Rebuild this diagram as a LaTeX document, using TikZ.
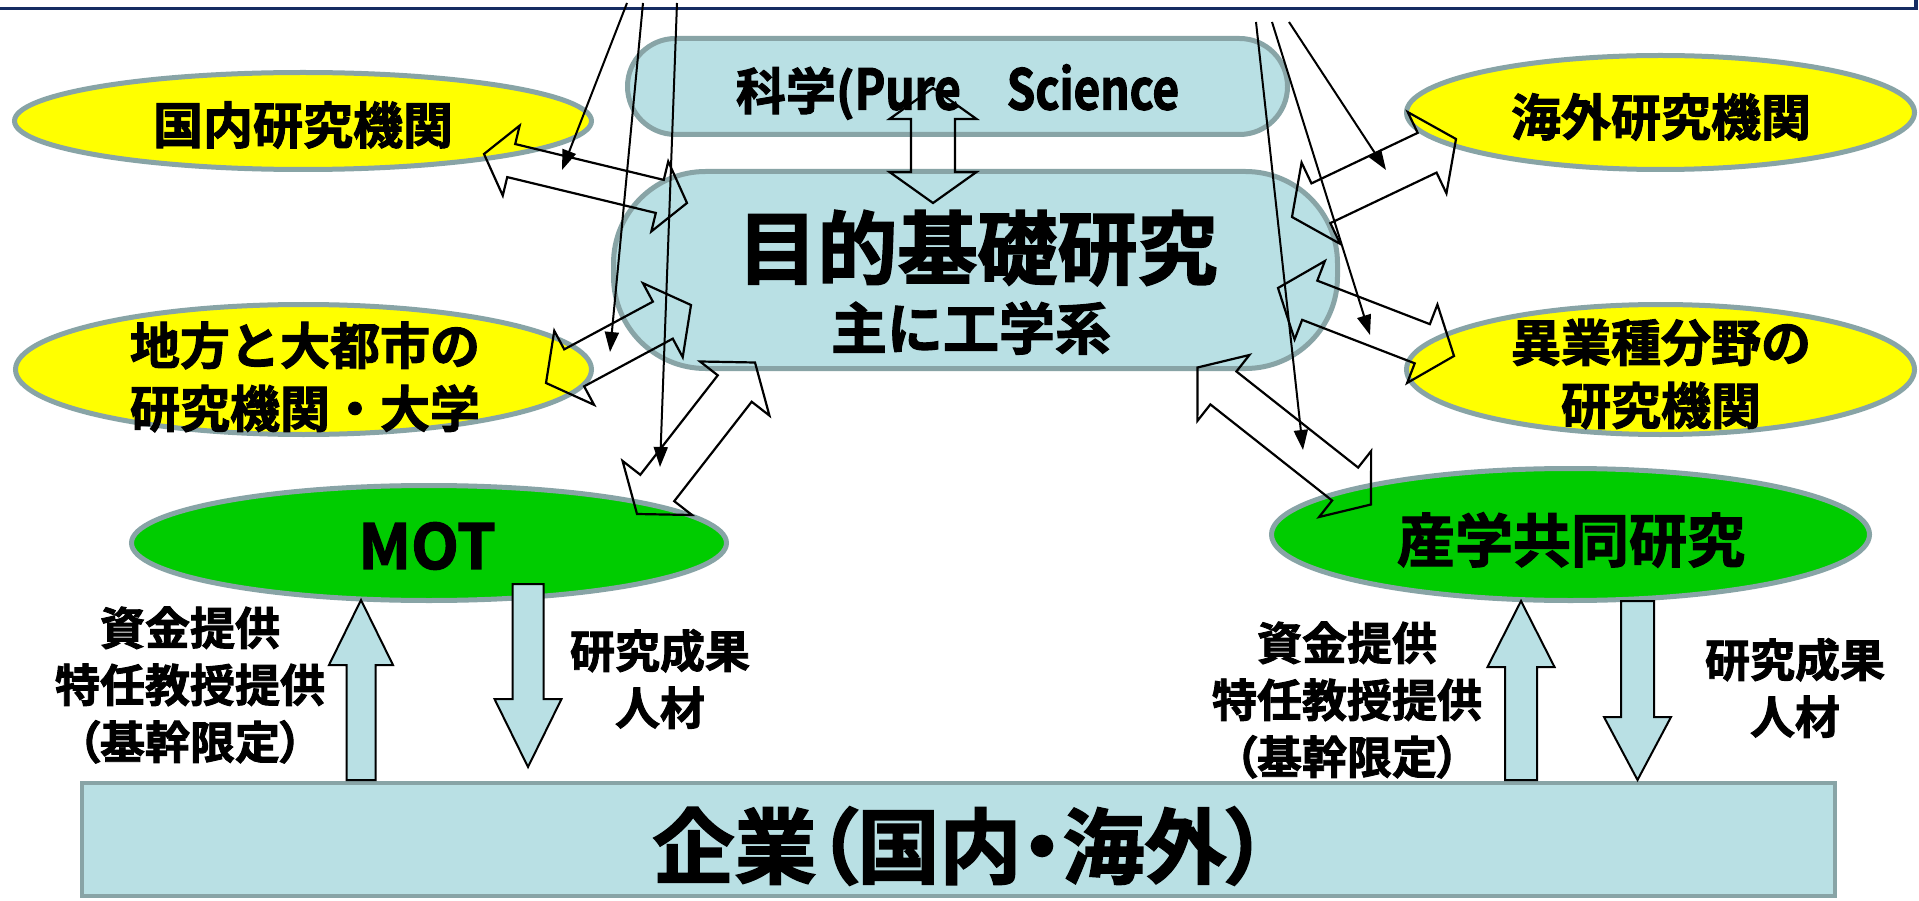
\documentclass[tikz,border=0pt]{standalone}
\usepackage{fontspec}
\newfontfamily\jp{Noto Sans CJK JP Bold}[FakeBold=2]
\newfontfamily\jpp{Noto Sans CJK JP Bold}[FakeBold=2,RawFeature=+palt]
\newfontfamily\jpc{Noto Sans CJK JP Bold}[FakeStretch=0.82,FakeBold=2]
\usetikzlibrary{shapes.geometric,arrows.meta,calc}
\definecolor{boxblue}{RGB}{185,224,228}
\definecolor{edgegrey}{RGB}{136,164,166}
\definecolor{yel}{RGB}{255,255,0}
\definecolor{grn}{RGB}{0,204,0}
\definecolor{navyline}{RGB}{22,44,98}
\tikzset{
  every node/.style={inner sep=0pt, outer sep=0pt},
  yellowell/.style={ellipse, fill=yel, draw=edgegrey, line width=5pt},
  greenell/.style={ellipse, fill=grn, draw=edgegrey, line width=5pt},
  bluebox/.style={rectangle, fill=boxblue, draw=edgegrey, line width=5pt},
  blockarr/.style={fill=boxblue, draw=black, line width=2pt, line join=miter},
  outarr/.style={draw=black, line width=2.2pt, line join=miter},
  thinarr/.style={draw=black, line width=2pt, -{Triangle[length=20pt,width=14pt]}},
  ellfont/.style={font={\jp\fontsize{50}{63}\selectfont}, align=center},
  lbl/.style={font={\jpp\fontsize{45}{57}\selectfont}, align=center},
}
% double outline block arrow: #1 tip A, #2 tip B, #3 half shaft, #4 half head, #5 head length
\newcommand\dblarrow[5]{%
  \draw[outarr] (#1) -- ($(#1)!#5!(#2)!#4!90:(#2)$) -- ($(#1)!#5!(#2)!#3!90:(#2)$)
    -- ($(#2)!#5!(#1)!#3!-90:(#1)$) -- ($(#2)!#5!(#1)!#4!-90:(#1)$) -- (#2)
    -- ($(#2)!#5!(#1)!#4!90:(#1)$) -- ($(#2)!#5!(#1)!#3!90:(#1)$)
    -- ($(#1)!#5!(#2)!#3!-90:(#2)$) -- ($(#1)!#5!(#2)!#4!-90:(#2)$) -- cycle;}
% single filled block arrow: #1 start, #2 tip, #3 half shaft, #4 half head, #5 head length
\newcommand\blockarrow[5]{%
  \draw[blockarr] ($(#1)!#3!90:(#2)$) -- ($(#2)!#5!(#1)!#3!-90:(#1)$)
    -- ($(#2)!#5!(#1)!#4!-90:(#1)$) -- (#2) -- ($(#2)!#5!(#1)!#4!90:(#1)$)
    -- ($(#2)!#5!(#1)!#3!90:(#1)$) -- ($(#1)!#3!-90:(#2)$) -- cycle;}
\begin{document}
\begin{tikzpicture}[x=1pt,y=-1pt]
\useasboundingbox (0,0) rectangle (1919,901);
\clip (0,0) rectangle (1919,901);
\fill[white] (0,0) rectangle (1919,901);
\draw[navyline, line width=3.5pt] (0,8.5) -- (1916,8.5) -- (1916,-3);

% boxes
\node[bluebox, rounded corners=48pt, minimum width=660pt, minimum height=96pt] (sci) at (957.5,86.5) {};
\node[bluebox, rounded corners=92pt, minimum width=724pt, minimum height=197pt] (main) at (975.5,270) {};
\node[bluebox, line width=4pt, minimum width=1753pt, minimum height=113pt] (co) at (958.5,839.5) {};

% ellipses
\node[yellowell, minimum width=577pt, minimum height=97pt] (dom) at (303,121) {};
\node[yellowell, minimum width=576pt, minimum height=130pt] (reg) at (303.5,369.5) {};
\node[yellowell, minimum width=508pt, minimum height=114pt] (ovs) at (1660.5,112.5) {};
\node[yellowell, minimum width=508pt, minimum height=130pt] (oth) at (1660.5,369.5) {};
\node[greenell, minimum width=595pt, minimum height=115pt] (mot) at (429,543) {};
\node[greenell, minimum width=598pt, minimum height=132pt] (ind) at (1570.5,534.5) {};

% texts
\node[ellfont] (tdom) at (303,125) {国内研究機関};
\node[ellfont] (treg) at (305,377) {地方と大都市の\\研究機関・大学};
\node[ellfont] (tovs) at (1661,117) {海外研究機関};
\node[ellfont] (toth) at (1661,374) {異業種分野の\\研究機関};
\node[font={\jp\fontsize{50}{60}\selectfont}] (tsci) at (957.5,92) {科学({\jpc\fontsize{56}{60}\selectfont Pure　Science}};
\node[font={\jp\fontsize{80}{90}\selectfont}] (tmain) at (977.5,248) {目的基礎研究};
\node[font={\jp\fontsize{56}{60}\selectfont}] (tmain2) at (971,328) {主に工学系};
\node[font={\jp\fontsize{62}{70}\selectfont}] (tmot) at (427,546) {MOT};
\node[font={\jp\fontsize{58}{66}\selectfont}] (tind) at (1571,540) {産学共同研究};
\node[font={\jpp\fontsize{82}{90}\selectfont}] (tco) at (960,846) {企業（国内・海外）};
\node[lbl] (l1) at (190,685) {資金提供\\特任教授提供\\（基幹限定）};
\node[lbl] (l2) at (660,679) {研究成果\\人材};
\node[lbl] (l3) at (1347,700) {資金提供\\特任教授提供\\（基幹限定）};
\node[lbl] (l4) at (1795,688) {研究成果\\人材};

% block arrows between MOT / joint research and the company box
\coordinate (mu1) at (361,780);  \coordinate (mu2) at (361,600);
\coordinate (md1) at (528,584);  \coordinate (md2) at (528,767);
\coordinate (iu1) at (1521,780); \coordinate (iu2) at (1521,601);
\coordinate (id1) at (1637.5,601); \coordinate (id2) at (1637.5,780);
\blockarrow{mu1}{mu2}{14.5pt}{32pt}{65pt}
\blockarrow{md1}{md2}{15.5pt}{33.5pt}{68pt}
\blockarrow{iu1}{iu2}{16pt}{33.5pt}{66pt}
\blockarrow{id1}{id2}{16.5pt}{33.5pt}{63pt}

% outline double arrows
\coordinate (a1) at (484,154);    \coordinate (b1) at (687,203);
\coordinate (a2) at (546,383);    \coordinate (b2) at (691,305);
\coordinate (a3) at (637,514);    \coordinate (b3) at (755,362.5);
\coordinate (a4) at (933,88);     \coordinate (b4) at (933,203);
\coordinate (a5) at (1292,217);   \coordinate (b5) at (1456,139);
\coordinate (a6) at (1278,288);   \coordinate (b6) at (1454,356);
\coordinate (a7) at (1197.5,367.5); \coordinate (b7) at (1371,504.5);
\dblarrow{a1}{b1}{17pt}{36pt}{28pt}
\dblarrow{a2}{b2}{21pt}{42pt}{32pt}
\dblarrow{a3}{b3}{21.5pt}{44pt}{33pt}
\dblarrow{a4}{b4}{22pt}{43.5pt}{31pt}
\dblarrow{a5}{b5}{22pt}{45pt}{32pt}
\dblarrow{a6}{b6}{21pt}{42pt}{34pt}
\dblarrow{a7}{b7}{21pt}{42pt}{33pt}

% thin arrows from the top
\coordinate (s1) at (627,3);  \coordinate (e1) at (562,170);
\coordinate (s2) at (643,3);  \coordinate (e2) at (610,352);
\coordinate (s3) at (677,3);  \coordinate (e3) at (660,467);
\coordinate (s4) at (1289,22); \coordinate (e4) at (1386,170);
\coordinate (s5) at (1272,22); \coordinate (e5) at (1370,335);
\coordinate (s6) at (1256,22); \coordinate (e6) at (1303,450);
\draw[thinarr] (s1) -- (e1);
\draw[thinarr] (s2) -- (e2);
\draw[thinarr] (s3) -- (e3);
\draw[thinarr] (s4) -- (e4);
\draw[thinarr] (s5) -- (e5);
\draw[thinarr] (s6) -- (e6);
\end{tikzpicture}
\end{document}
